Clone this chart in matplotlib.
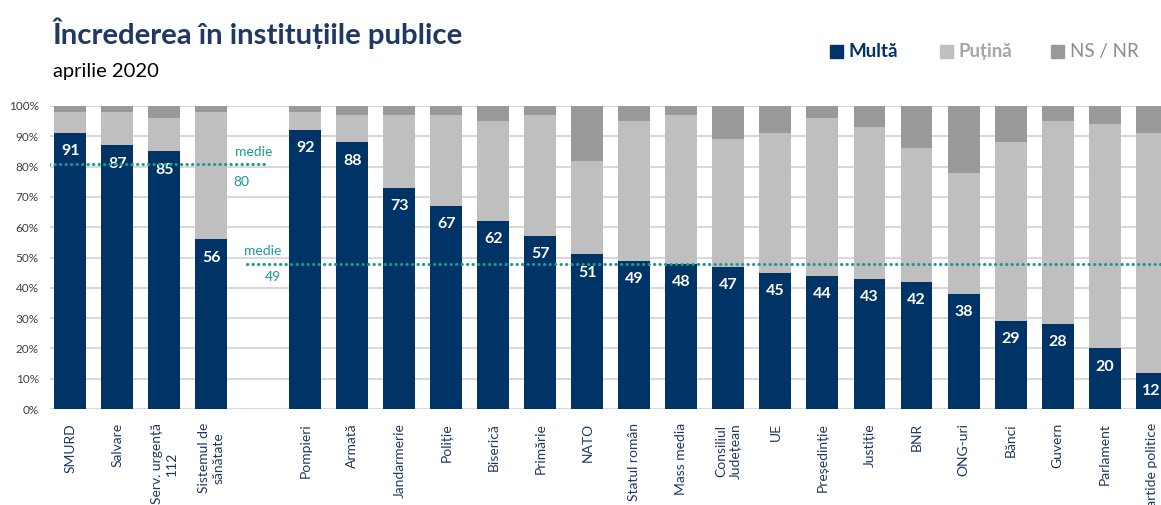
import numpy as np
import matplotlib
matplotlib.use("Agg")
import matplotlib.pyplot as plt
from matplotlib.patches import Rectangle

plt.rcParams["font.family"] = ["Lato", "DejaVu Sans"]

# ---------------------------------------------------------------------------
# Data (percent)
# ---------------------------------------------------------------------------
group_a = ["SMURD", "Salvare", "Serv. urgență\n112", "Sistemul de\nsănătate"]
group_b = ["Pompieri", "Armată", "Jandarmerie", "Poliție", "Biserică", "Primărie",
           "NATO", "Statul român", "Mass media", "Consiliul\nJudețean", "UE",
           "Președinție", "Justiție", "BNR", "ONG-uri", "Bănci", "Guvern",
           "Parlament", "Partide politice"]

multa = [91, 87, 85, 56, 92, 88, 73, 67, 62, 57, 51, 49, 48, 47, 45, 44, 43,
         42, 38, 29, 28, 20, 12]
putina = [7, 11, 11, 42, 6, 9, 24, 30, 33, 40, 31, 46, 49, 42, 46, 52, 50,
          44, 40, 59, 67, 74, 79]
nsnr = [2, 2, 4, 2, 2, 3, 3, 3, 5, 3, 18, 5, 3, 11, 9, 4, 7, 14, 22, 12, 5,
        6, 9]

# group means: (label, line level)
mean_a = (80, 80.8)
mean_b = (49, 48.0)

series_names = ["Multă", "Puțină", "NS / NR"]

# ---------------------------------------------------------------------------
# Styling
# ---------------------------------------------------------------------------
C_MULTA = "#003366"
C_PUTINA = "#bfbfbf"
C_NS = "#999999"
C_TEAL = "#1a9993"
C_LABEL = "#1f3864"
W, H = 1161, 505

categories = group_a + group_b
pos = np.r_[np.arange(len(group_a)), np.arange(len(group_b)) + len(group_a) + 1]
multa = np.array(multa)
putina = np.array(putina)
nsnr = np.array(nsnr)

fig = plt.figure(figsize=(W / 100, H / 100), dpi=100)
ax = fig.add_axes([50 / W, 96 / H, (W - 50) / W, 303 / H])

bw = 0.68
ax.bar(pos, multa, bw, color=C_MULTA, zorder=3)
ax.bar(pos, putina, bw, bottom=multa, color=C_PUTINA, zorder=3)
ax.bar(pos, nsnr, bw, bottom=multa + putina, color=C_NS, zorder=3)

for x, v in zip(pos, multa):
    ax.text(x, v - 6, f"{v}", ha="center", va="center", color="white",
            fontsize=11.5, fontweight="bold", zorder=5)

# mean lines
n_a = len(group_a)
dots = dict(ls=(0, (0.1, 1.7)), lw=2.2, color=C_TEAL,
            dash_capstyle="round", zorder=6)
ax.plot([-0.45, n_a + 0.2], [mean_a[1]] * 2, **dots)
ax.plot([n_a - 0.23, pos[-1] + 1], [mean_b[1]] * 2, **dots)
ax.text(n_a - 0.1, mean_a[1] + 2.2, "medie", color=C_TEAL, fontsize=10,
        va="bottom", ha="center", zorder=6)
ax.text(n_a - 0.35, mean_a[1] - 4.0, f"{mean_a[0]}", color=C_TEAL, fontsize=10,
        va="top", ha="center", zorder=6)
ax.text(n_a + 0.1, mean_b[1] + 2.2, "medie", color=C_TEAL, fontsize=10,
        va="bottom", ha="center", zorder=6)
ax.text(n_a + 0.3, mean_b[1] - 2.6, f"{mean_b[0]}", color=C_TEAL, fontsize=10,
        va="top", ha="center", zorder=6)

ax.set_xlim(-0.43, pos[-1] + 0.2)
ax.set_ylim(0, 100)
ax.set_yticks(np.arange(0, 101, 10))
ax.set_yticklabels([f"{t}%" for t in range(0, 101, 10)])
ax.set_xticks(pos)
ax.set_xticklabels(categories, rotation=90, ha="center", va="top",
                   multialignment="center", linespacing=1.3)
ax.tick_params(axis="x", length=0, pad=10, labelsize=10, labelcolor=C_LABEL)
ax.tick_params(axis="y", length=0, pad=8, labelsize=8.5, labelcolor="#404040")
ax.grid(axis="y", color="#d9d9d9", lw=1.5, zorder=0)
for s in ax.spines.values():
    s.set_visible(False)
ax.axhline(0, color="#d9d9d9", lw=2, zorder=2)

# title block
fig.text(53 / W, 1 - 44 / H, "Încrederea în instituțiile publice",
         fontsize=21.2, fontweight="bold", color=C_LABEL, va="baseline")
fig.text(53 / W, 1 - 77 / H, "aprilie 2020", fontsize=14.5, color="black",
         va="baseline")

# legend
leg_colors = [C_MULTA, C_PUTINA, C_NS]
leg_text_colors = [C_MULTA, "#a6a6a6", "#8c8c8c"]
leg_weights = ["bold", "bold", "normal"]
leg_x = [830, 940, 1051]
for name, c, tc, wgt, lx in zip(series_names, leg_colors, leg_text_colors,
                                leg_weights, leg_x):
    fig.patches.append(Rectangle((lx / W, 1 - 58 / H), 13 / W, 13 / H,
                                 transform=fig.transFigure, color=c))
    fig.text((lx + 19) / W, 1 - 57 / H, name, fontsize=13.5, fontweight=wgt,
             color=tc, va="baseline")

fig.savefig("out.png", dpi=100)
